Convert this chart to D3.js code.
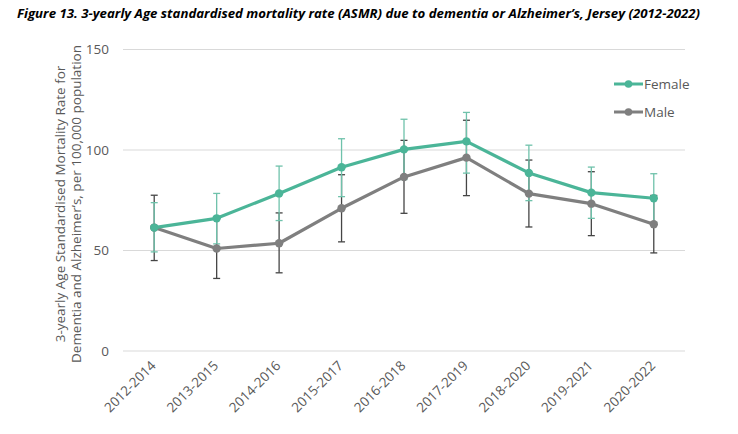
<!DOCTYPE html>
<html><head><meta charset="utf-8">
<script src="https://cdn.jsdelivr.net/npm/d3@7"></script>
<style>body{margin:0;background:#fff}svg{display:block}text{font-family:"Open Sans",sans-serif}</style>
</head><body><svg id="c" width="738" height="434"></svg>
<script>
const categories = ["2012-2014","2013-2015","2014-2016","2015-2017","2016-2018","2017-2019","2018-2020","2019-2021","2020-2022"];
const femaleValues = [61.4, 66.0, 78.4, 91.4, 100.3, 104.3, 88.6, 78.8, 76.0];
const femaleLower  = [49.3, 53.3, 64.9, 76.8, 85.3, 88.5, 74.8, 66.0, 64.0];
const femaleUpper  = [73.8, 78.4, 92.0, 105.6, 115.3, 118.7, 102.4, 91.5, 88.2];
const maleValues   = [61.4, 51.0, 53.6, 71.0, 86.6, 96.2, 78.3, 73.3, 63.1];
const maleLower    = [45.0, 36.1, 38.9, 54.3, 68.5, 77.3, 61.7, 57.4, 48.8];
const maleUpper    = [77.5, 66.0, 68.7, 87.7, 104.8, 114.8, 95.0, 89.2, 77.4];
const yTicks = [0, 50, 100, 150];
const seriesNames = ["Female", "Male"];

const svg = d3.select("#c");
const x = d3.scaleBand().domain(categories).range([123, 685]);
const y = d3.scaleLinear().domain([0, 150]).range([351, 49.5]);
const cx = d => x(d) + x.bandwidth() / 2;

svg.append("text").attr("x", 17).attr("y", 18)
  .attr("font-size", 13).attr("font-weight", "bold").attr("font-style", "italic").attr("fill", "#000")
  .attr("textLength", 683).attr("lengthAdjust", "spacingAndGlyphs")
  .text("Figure 13. 3-yearly Age standardised mortality rate (ASMR) due to dementia or Alzheimer\u2019s, Jersey (2012-2022)");

// grid
svg.append("g").selectAll("line").data(yTicks).join("line")
  .attr("x1", 123).attr("x2", 685).attr("y1", d => y(d)).attr("y2", d => y(d))
  .attr("stroke", "#d9d9d9").attr("stroke-width", 1);

// y axis
const yAxis = svg.append("g").attr("transform", "translate(123,0)")
  .call(d3.axisLeft(y).tickValues(yTicks).tickSize(0).tickPadding(14));
yAxis.select(".domain").remove();
yAxis.selectAll("text").attr("font-size", 13.5).attr("fill", "#595959").attr("font-family", "Open Sans");

// x axis
const xAxis = svg.append("g").attr("transform", "translate(0,351)")
  .call(d3.axisBottom(x).tickSize(0));
xAxis.select(".domain").remove();
xAxis.selectAll("text").attr("font-size", 13.5).attr("fill", "#595959").attr("font-family", "Open Sans")
  .attr("text-anchor", "end").attr("transform", "translate(-3,10) rotate(-45)").attr("dy", "0.35em");

// y title
const yt = svg.append("text").attr("transform", "translate(65,204) rotate(-90)")
  .attr("text-anchor", "middle").attr("font-size", 13.5).attr("fill", "#595959");
yt.append("tspan").attr("x", 0).attr("dy", 0).text("3-yearly Age Standardised Mortality Rate for");
yt.append("tspan").attr("x", 0).attr("dy", 15.5).text("Dementia and Alzheimer\u2019s, per 100,000 population");

const series = [
  {name: "Female", v: femaleValues, lo: femaleLower, hi: femaleUpper, color: "#4bb598", err: "#6fc2ab"},
  {name: "Male", v: maleValues, lo: maleLower, hi: maleUpper, color: "#7f7f7f", err: "#454545"}
];

series.slice().reverse().forEach(s => {
  const g = svg.append("g").attr("stroke", s.err).attr("stroke-width", 1.3);
  categories.forEach((c, i) => {
    g.append("line").attr("x1", cx(c)).attr("x2", cx(c)).attr("y1", y(s.lo[i])).attr("y2", y(s.hi[i]));
    [s.lo[i], s.hi[i]].forEach(v => g.append("line").attr("x1", cx(c) - 3.5).attr("x2", cx(c) + 3.5).attr("y1", y(v)).attr("y2", y(v)));
  });
});

const line = d3.line().x((d, i) => cx(categories[i])).y(d => y(d));
series.slice().reverse().forEach(s => {
  svg.append("path").datum(s.v).attr("d", line).attr("fill", "none")
    .attr("stroke", s.color).attr("stroke-width", 3.2).attr("stroke-linejoin", "round");
  svg.append("g").selectAll("circle").data(s.v).join("circle")
    .attr("cx", (d, i) => cx(categories[i])).attr("cy", d => y(d)).attr("r", 4.2).attr("fill", s.color);
});

// legend
series.forEach((s, i) => {
  const ly = 84 + i * 28;
  svg.append("line").attr("x1", 614).attr("x2", 643).attr("y1", ly).attr("y2", ly)
    .attr("stroke", s.color).attr("stroke-width", 3);
  svg.append("circle").attr("cx", 628.5).attr("cy", ly).attr("r", 3.8).attr("fill", s.color);
  svg.append("text").attr("x", 644).attr("y", ly).attr("dy", "0.35em")
    .attr("font-size", 13.5).attr("fill", "#595959").text(s.name);
});
</script></body></html>
